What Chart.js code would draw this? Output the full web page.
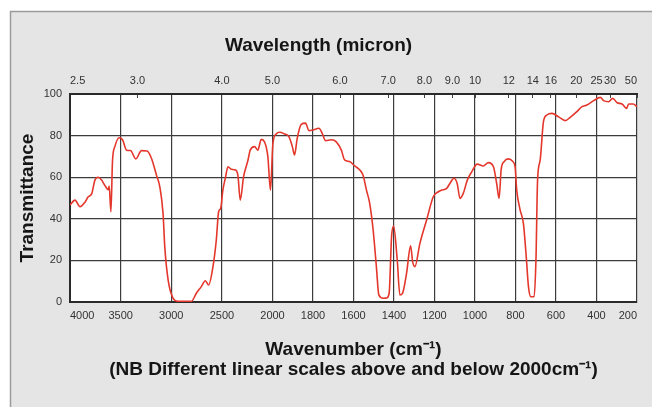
<!DOCTYPE html>
<html>
<head>
<meta charset="utf-8">
<script src="https://cdn.jsdelivr.net/npm/chart.js@4"></script>
<style>
  html, body { margin: 0; padding: 0; background: #fff; }
  #chart { display: block; }
</style>
</head>
<body>
<canvas id="chart" width="652" height="407"></canvas>
<script>
// Spectrum (wavenumber in cm-1, transmittance in %)
const wavenumbers = [
  4000, 3951, 3901, 3852, 3820, 3786, 3754, 3721, 3688, 3655, 3622, 3613, 3596, 3580, 3557,
  3514, 3481, 3441, 3402, 3350, 3294, 3238, 3195, 3146, 3113, 3081, 3064, 3031, 2982, 2933,
  2801, 2752, 2703, 2663, 2631, 2588, 2555, 2532, 2512, 2490, 2466, 2440, 2407, 2368, 2342,
  2318, 2286, 2243, 2220, 2177, 2145, 2111, 2079, 2046, 2020, 1998, 1982, 1965, 1941, 1919,
  1902, 1891, 1878, 1858, 1837, 1820, 1800, 1771, 1754, 1738, 1709, 1685, 1660, 1644, 1619,
  1594, 1569, 1553, 1536, 1520, 1503, 1487, 1475, 1454, 1437, 1424, 1412, 1402, 1384, 1371,
  1358, 1338, 1318, 1308, 1297, 1272, 1239, 1206, 1181, 1165, 1140, 1124, 1104, 1088, 1074,
  1058, 1038, 1016, 989, 959, 934, 909, 893, 881, 871, 856, 835, 813, 802, 794,
  777, 761, 747, 736, 724, 708, 699, 691, 678, 662, 645, 620, 587, 554, 530,
  497, 472, 447, 414, 381, 365, 340, 320, 298, 274, 252, 241, 219, 200
];
const transmittance = [
  46.6, 49, 45.8, 48, 50.6, 52, 58.6, 60, 58.6, 56, 54, 55.8, 43.4, 68, 74.7,
  79, 78, 73, 72.8, 68.8, 72.8, 72.6, 69, 61, 55.4, 42.6, 26.6, 10.6, 1.8, 0.3,
  0.3, 4.2, 7.4, 10.2, 8.2, 17, 29.8, 43.4, 45, 53.8, 59.5, 65, 63.8, 63.5, 61,
  49, 60.2, 68, 73, 74.7, 73, 78.2, 77, 70, 53.8, 76.3, 80.8, 81.6, 80.8, 79.5,
  74.7, 70.7, 78.7, 85.4, 86, 82.4, 82.7, 83.5, 81, 77.6, 78, 77, 73, 68.3, 67.5,
  65.4, 63.5, 61, 53.8, 47.4, 34.6, 17, 3.4, 1.8, 1.9, 4.2, 31.4, 36.5, 20.2, 3.4,
  4.2, 13.8, 27, 19.4, 17, 28.2, 39.4, 50.6, 53, 53.8, 54.6, 57, 59.5, 57, 49.8,
  52.2, 58.6, 62.6, 66.3, 65.4, 67, 65, 57, 49.8, 63.5, 67.5, 68.8, 67.5, 65, 53.8,
  44.2, 37.8, 21.8, 7.4, 2.5, 2.5, 20.2, 58.6, 68.3, 86.7, 89.9, 90.7, 89, 87.2, 88.8,
  91.5, 93.9, 94.7, 96.8, 98.4, 96.8, 96.3, 97.9, 95.8, 95.2, 93.1, 95.2, 95.2, 93.9
];

// Bottom axis ticks (cm-1) and top axis ticks (micron)
const wavenumberTicks = [4000, 3500, 3000, 2500, 2000, 1800, 1600, 1400, 1200, 1000, 800, 600, 400, 200];
const micronTicks = [2.5, 3, 4, 5, 6, 7, 8, 9, 10, 12, 14, 16, 20, 25, 30, 50];
const micronLabels = ["2.5", "3.0", "4.0", "5.0", "6.0", "7.0", "8.0", "9.0", "10", "12", "14", "16", "20", "25", "30", "50"];
const transmittanceTicks = [0, 20, 40, 60, 80, 100];

// The paper uses one linear scale from 4000 to 2000 and another from 2000 to 200
function wnToPos(w) {
  return w >= 2000 ? (4000 - w) / 500 * 5 : 20 + (2000 - w) / 200 * 4;
}
const POS_MAX = wnToPos(200);

const points = wavenumbers.map((w, i) => ({ x: wnToPos(w), y: transmittance[i] }));

const tickFont = { family: "'Liberation Sans', Arial, sans-serif", size: 11 };
const titleFont = { family: "'Liberation Sans', Arial, sans-serif", size: 19, weight: "bold" };
const gridColor = "#3c3c3c";

// grey card behind the chart, white plotting area
const paperPlugin = {
  id: "paper",
  beforeDraw(chart) {
    const { ctx, width, height, chartArea } = chart;
    ctx.save();
    ctx.fillStyle = "#ffffff";
    ctx.fillRect(0, 0, width, height);
    ctx.fillStyle = "#e6e5e6";
    ctx.fillRect(10, 11, width - 10, height - 11);
    ctx.strokeStyle = "#9c9c9c";
    ctx.lineWidth = 1.5;
    ctx.beginPath();
    ctx.moveTo(10.5, height);
    ctx.lineTo(10.5, 11.5);
    ctx.lineTo(width, 11.5);
    ctx.stroke();
    ctx.fillStyle = "#ffffff";
    ctx.fillRect(chartArea.left, chartArea.top, chartArea.right - chartArea.left, chartArea.bottom - chartArea.top);
    ctx.restore();
  }
};

new Chart(document.getElementById("chart"), {
  type: "line",
  data: {
    datasets: [{
      data: points,
      borderColor: "#e4372c",
      borderWidth: 1.6,
      pointRadius: 0,
      fill: false,
      cubicInterpolationMode: "monotone"
    }]
  },
  options: {
    responsive: false,
    animation: false,
    layout: { padding: { left: 0, right: 15, top: 0, bottom: 0 } },
    plugins: {
      legend: { display: false },
      tooltip: { enabled: false },
      title: {
        display: true,
        text: "Wavelength (micron)",
        color: "#151515",
        font: titleFont,
        padding: { top: 34.6, bottom: 0 }
      }
    },
    scales: {
      x: {
        type: "linear",
        position: "bottom",
        min: 0,
        max: POS_MAX,
        afterBuildTicks: s => { s.ticks = wavenumberTicks.map(w => ({ value: wnToPos(w) })); },
        afterFit: s => { s.height = 105; },
        ticks: {
          autoSkip: false,
          maxRotation: 0,
          align: "inner",
          padding: 7,
          color: "#333",
          font: tickFont,
          callback: (v, i) => String(wavenumberTicks[i])
        },
        grid: { color: gridColor, lineWidth: 1.2, drawTicks: false },
        border: { color: "#2a2a2a", width: 2 },
        title: {
          display: true,
          text: ["Wavenumber (cm\u207B\u00B9)", "(NB Different linear scales above and below 2000cm\u207B\u00B9)"],
          color: "#151515",
          font: { ...titleFont, lineHeight: 20 / 19 },
          padding: { top: 0, bottom: 27 }
        }
      },
      x2: {
        type: "linear",
        position: "top",
        min: 0,
        max: POS_MAX,
        afterBuildTicks: s => { s.ticks = micronTicks.map(m => ({ value: wnToPos(10000 / m) })); },
        afterFit: s => { s.height = 94 - 57.4; },
        ticks: {
          autoSkip: false,
          maxRotation: 0,
          align: "inner",
          padding: 10,
          color: "#333",
          font: tickFont,
          callback: (v, i) => micronLabels[i]
        },
        grid: { drawOnChartArea: false, drawTicks: true, tickLength: -4, color: "#444", lineWidth: 1 },
        border: { color: "#2a2a2a", width: 2 }
      },
      y: {
        min: 0,
        max: 100,
        afterBuildTicks: s => { s.ticks = transmittanceTicks.map(t => ({ value: t })); },
        afterFit: s => { s.width = 70; },
        ticks: { padding: 8, color: "#333", font: tickFont },
        grid: { color: gridColor, lineWidth: 1.2, drawTicks: false },
        border: { color: "#2a2a2a", width: 2 },
        title: {
          display: true,
          text: "Transmittance",
          color: "#151515",
          font: titleFont,
          padding: { top: 16.6, bottom: 0 }
        }
      }
    }
  },
  plugins: [paperPlugin]
});
</script>
</body>
</html>
